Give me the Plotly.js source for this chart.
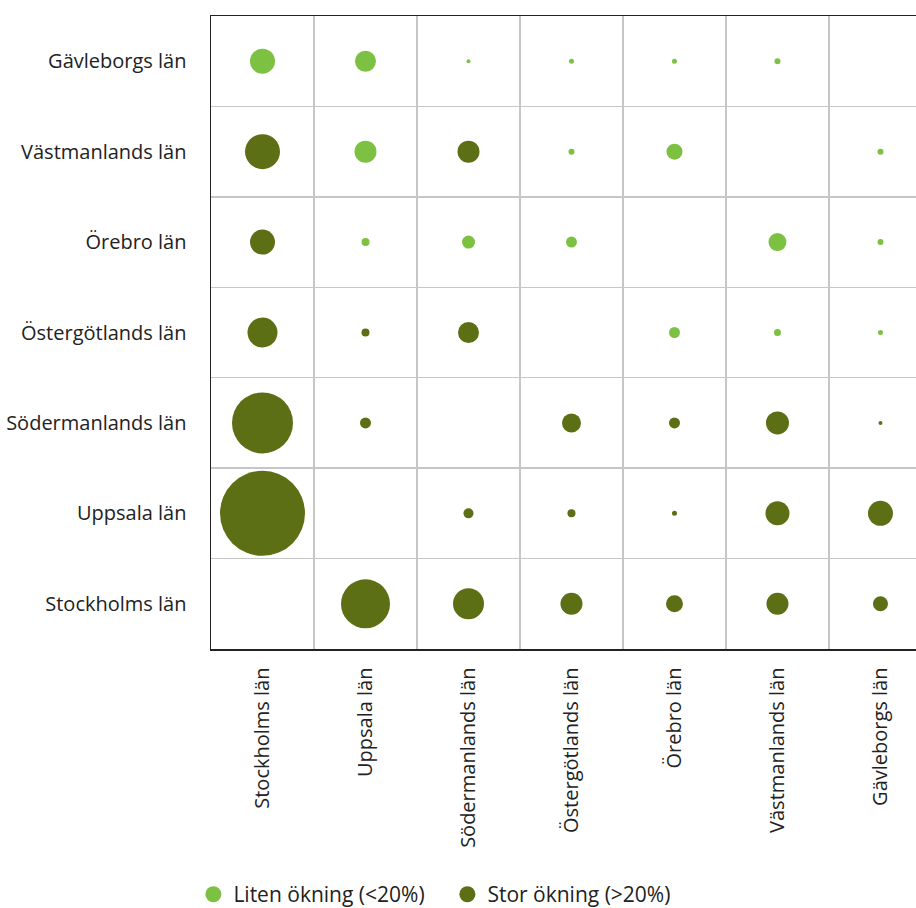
<!DOCTYPE html>
<html>
<head>
<meta charset="utf-8">
<script src="https://cdn.plot.ly/plotly-3.0.1.min.js"></script>
<style>
  html, body { margin: 0; padding: 0; background: #fff; overflow: hidden; }
  #chart { width: 916px; height: 908px; }
</style>
</head>
<body>
<div id="chart"></div>
<script>
// Categories (x = destination, y = origin), same order on both axes
const regions = ['Stockholms län', 'Uppsala län', 'Södermanlands län', 'Östergötlands län', 'Örebro län', 'Västmanlands län', 'Gävleborgs län'];

// Estimated flow values per origin row (order follows `regions` columns); null = no bubble
const rowStockholm     = [null, 12005, 4805, 2420, 1445, 2420, 1125];
const rowUppsala       = [36125, null, 500, 320, 125, 2880, 3125];
const rowSodermanland  = [18605, 605, null, 1805, 605, 2650, 80];
const rowOstergotland  = [4500, 320, 2205, null, 605, 245, 125];
const rowOrebro        = [3125, 320, 845, 605, null, 1620, 180];
const rowVastmanland   = [6125, 2420, 2420, 180, 1280, null, 180];
const rowGavleborg     = [3125, 2205, 80, 125, 125, 180, null];

// Increase class per cell: 'L' = Liten ökning (<20%), 'S' = Stor ökning (>20%)
const typeStockholm    = ['', 'S', 'S', 'S', 'S', 'S', 'S'];
const typeUppsala      = ['S', '', 'S', 'S', 'S', 'S', 'S'];
const typeSodermanland = ['S', 'S', '', 'S', 'S', 'S', 'S'];
const typeOstergotland = ['S', 'S', 'S', '', 'L', 'L', 'L'];
const typeOrebro       = ['S', 'L', 'L', 'L', '', 'L', 'L'];
const typeVastmanland  = ['S', 'L', 'S', 'L', 'L', '', 'L'];
const typeGavleborg    = ['L', 'L', 'L', 'L', 'L', 'L', ''];

const legendNames = ['Liten ökning (<20%)', 'Stor ökning (>20%)'];

const rows = [rowStockholm, rowUppsala, rowSodermanland, rowOstergotland, rowOrebro, rowVastmanland, rowGavleborg];
const types = [typeStockholm, typeUppsala, typeSodermanland, typeOstergotland, typeOrebro, typeVastmanland, typeGavleborg];

const light = {x: [], y: [], s: []};
const dark = {x: [], y: [], s: []};
rows.forEach((row, ri) => {
  row.forEach((v, ci) => {
    if (v == null) return;
    const t = types[ri][ci] === 'L' ? light : dark;
    t.x.push(regions[ci]);
    t.y.push(regions[ri]);
    t.s.push(v);
  });
});

const SIZEREF = 10;
function trace(d, name, color) {
  return {
    type: 'scatter', mode: 'markers', name: name,
    x: d.x, y: d.y,
    marker: {size: d.s, sizemode: 'area', sizeref: SIZEREF, color: color, opacity: 1, line: {width: 0}},
    opacity: 1,
    hoverinfo: 'x+y'
  };
}

const data = [
  trace(light, legendNames[0], '#7DC142'),
  trace(dark, legendNames[1], '#5D6F14')
];

const FONT = '"Open Sans", "Noto Sans", sans-serif';
const layout = {
  width: 916, height: 908,
  margin: {l: 211, r: 0, t: 16, b: 259, pad: 0, autoexpand: false},
  paper_bgcolor: '#fff', plot_bgcolor: '#fff',
  font: {family: FONT, size: 20, color: '#222'},
  showlegend: true,
  legend: {
    orientation: 'h', x: -0.025, xanchor: 'left', y: -0.388, yanchor: 'middle',
    font: {family: FONT, size: 21, color: '#222'},
    itemsizing: 'trace', traceorder: 'normal',
    entrywidth: 209, entrywidthmode: 'pixels'
  },
  xaxis: {
    type: 'category', categoryorder: 'array', categoryarray: regions,
    range: [-0.5, 6.345], tickson: 'boundaries', automargin: false,
    showgrid: true, gridcolor: '#c6c6c6', gridwidth: 1.5,
    showline: true, linecolor: '#222', linewidth: 1.5, mirror: true,
    ticks: '', tickangle: -90, ticklabelstandoff: 9,
    tickfont: {family: FONT, size: 20, color: '#222'},
    zeroline: false, fixedrange: true
  },
  yaxis: {
    type: 'category', categoryorder: 'array', categoryarray: regions,
    range: [-0.5, 6.5], tickson: 'boundaries', automargin: false,
    showgrid: true, gridcolor: '#c6c6c6', gridwidth: 1.5,
    showline: true, linecolor: '#222', linewidth: 1.5, mirror: false,
    ticks: '', ticklabelstandoff: 19,
    tickfont: {family: FONT, size: 20, color: '#222'},
    zeroline: false, fixedrange: true
  }
};

Plotly.newPlot('chart', data, layout, {displayModeBar: false, staticPlot: true});
</script>
</body>
</html>
